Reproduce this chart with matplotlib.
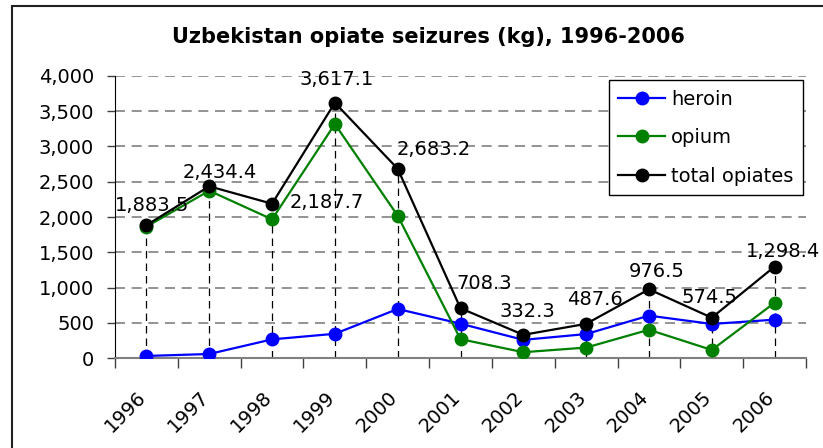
import numpy as np
import matplotlib.pyplot as plt
import matplotlib.transforms as mtransforms
from matplotlib.patches import Rectangle
from matplotlib.ticker import FuncFormatter

plt.rcParams['font.family'] = ['DejaVu Sans']

years = ['1996', '1997', '1998', '1999', '2000', '2001', '2002', '2003', '2004', '2005', '2006']
heroin = [33, 61, 268, 347, 698, 490, 261, 343, 604, 486, 547]
opium = [1863, 2372, 1967, 3316, 2018, 271, 86, 152, 404, 118, 786]
total = [1883.5, 2434.4, 2187.7, 3617.1, 2683.2, 708.3, 332.3, 487.6, 976.5, 574.5, 1298.4]
# label offsets (px) from the total points
lab_dx = [6, 11, 55, 2, 36, 24, 4, 9, 8, -2, 8]
lab_dy = [20, 14, 1, 23, 19, 25, 23, 24, 18, 20, 15]

fig = plt.figure(figsize=(8.23, 4.48), dpi=100)
ax = fig.add_axes([115/823, 1-358.3/448, 691/823, 282.6/448])
x = np.arange(len(years))

for i in range(len(x)):
    ax.plot([x[i], x[i]], [0, total[i]], color='black', lw=0.9, ls=(0, (6, 4)), zorder=1)

ax.plot(x, heroin, color='#0000ff', marker='o', ms=9, lw=1.6, label='heroin', zorder=3)
ax.plot(x, opium, color='#008000', marker='o', ms=9, lw=1.6, label='opium', zorder=3)
ax.plot(x, total, color='black', marker='o', ms=9, lw=1.6, label='total opiates', zorder=4)

for i in range(len(x)):
    ax.annotate(f'{total[i]:,.1f}', (x[i], total[i]), xytext=(lab_dx[i]*0.72, lab_dy[i]*0.72),
                textcoords='offset points', ha='center', va='center', fontsize=14, zorder=5)

ax.set_xlim(-0.5, 10.5)
ax.set_ylim(0, 4000)
ax.set_yticks(np.arange(0, 4001, 500))
ax.yaxis.set_major_formatter(FuncFormatter(lambda v, p: f'{v:,.0f}'))
ax.tick_params(axis='y', labelsize=14, length=6, width=1, color='#404040', direction='out', pad=9)
ax.grid(axis='y', color='#808080', ls=(0, (6, 4)), lw=1.2)
ax.set_axisbelow(True)

ax.set_xticks(x)
ax.set_xticklabels(years, rotation=45, ha='right', va='center', rotation_mode='anchor', fontsize=14)
ax.tick_params(axis='x', which='major', length=0, pad=26)
ax.set_xticks(np.arange(-0.5, 11, 1), minor=True)
ax.tick_params(axis='x', which='minor', length=7, width=1, color='#404040', direction='out')
shift = mtransforms.ScaledTranslation(-3/100, 0, fig.dpi_scale_trans)
for lab in ax.get_xticklabels():
    lab.set_transform(lab.get_transform() + shift)

for s in ['top', 'right']:
    ax.spines[s].set_visible(False)
ax.spines['left'].set_color('black')
ax.spines['bottom'].set_color('#808080')
ax.spines['bottom'].set_linewidth(1.5)

leg = ax.legend(loc='upper right', bbox_to_anchor=(803/823, 1-80/448), bbox_transform=fig.transFigure,
                borderaxespad=0, fontsize=14, fancybox=False, edgecolor='black', framealpha=1,
                handlelength=2.4, labelspacing=1.0, borderpad=0.5, handletextpad=0.3)
leg.get_frame().set_linewidth(1)

fig.text(428/823, 1-37/448, 'Uzbekistan opiate seizures (kg), 1996-2006', ha='center', va='center',
         fontsize=15, fontweight='bold')
fig.add_artist(Rectangle((12/823, -0.05), 1.1, 1.05-6/448, transform=fig.transFigure,
                         fill=False, ec='#202020', lw=1.5))

fig.savefig('out.png', dpi=100)
